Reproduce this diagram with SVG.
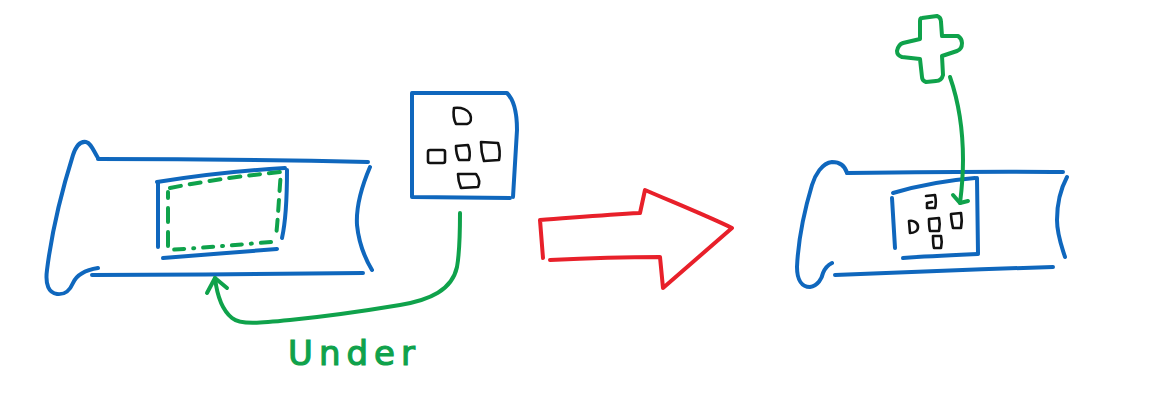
<svg xmlns="http://www.w3.org/2000/svg" width="1171" height="415" viewBox="0 0 1171 415">
<style>
.b{fill:none;stroke:#0f67bd;stroke-width:4;stroke-linecap:round;stroke-linejoin:round}
.g{fill:none;stroke:#0fa24b;stroke-width:4;stroke-linecap:round;stroke-linejoin:round}
.r{fill:none;stroke:#e8202a;stroke-width:4;stroke-linecap:round;stroke-linejoin:round}
.k{fill:none;stroke:#111;stroke-width:2.6;stroke-linecap:round;stroke-linejoin:round}
.lbl{font-family:"DejaVu Sans",sans-serif;font-size:34px;fill:#0fa24b;stroke:#0fa24b;stroke-width:1.2;letter-spacing:6px}
</style>
<rect width="1171" height="415" fill="#fff"/>
<g id="left-tape">
<path class="b" d="M98,158 C93,150 91,143 86,142 C80,141 76,146 73,155 C62,190 52,230 47,270 C45,285 49,293 57,294 C66,295 70,290 73,283 C77,274 85,270 98,268"/>
<path class="b" d="M98,159 C180,159 280,160 368,162"/>
<path class="b" d="M92,275 C180,275 280,274 363,273"/>
<path class="b" d="M370,167 C361,188 356,208 357,225 C359,245 366,260 372,270"/>
<path class="b" d="M158,183 L158,247"/>
<path class="b" d="M157,182 C200,175 250,170 285,168"/>
<path class="b" d="M287,170 C287,195 286,220 282,238"/>
<path class="b" d="M163,258 C200,255 240,252 277,249"/>
<path class="g" stroke-dasharray="11 9" d="M170,188 C210,180 250,175 281,172 C279,195 278,220 276,236"/>
<path class="g" stroke-dasharray="10 9 1 9" d="M271,242 C235,245 200,248 168,250"/>
<path class="g" stroke-dasharray="14 10" d="M168,246 L168,192"/>
</g>
<g id="component">
<path class="b" d="M413,93 L507,93 C514,100 517,115 517,130 L513,197"/>
<path class="b" d="M412,93 L412,197 L510,198"/>
<path class="k" d="M454,108 C462,107 468,110 470,114 C472,119 471,123 467,124 L456,124 C454,120 453,114 454,108 Z"/>
<rect class="k" x="428" y="150" width="17" height="13" rx="2"/>
<path class="k" d="M456,146 L468,145 C470,150 470,156 469,160 L459,160 C457,156 456,150 456,146 Z"/>
<path class="k" d="M481,142 L498,143 C500,149 500,155 499,160 L484,161 C482,155 481,148 481,142 Z"/>
<path class="k" d="M458,174 L476,174 C479,178 480,183 478,187 L461,188 C459,183 458,178 458,174 Z"/>
</g>
<g id="transform-arrow">
<path class="r" d="M550,260 C590,258 630,257 660,257 L663,288 L732,228 C705,215 675,203 645,190 L640,213 C600,215 570,218 540,220 L543,258"/>
</g>
<g id="right-tape">
<path class="b" d="M847,173 C845,166 840,162 832,162 C822,163 815,175 812,185 C803,215 798,245 797,267 C797,280 802,287 810,287 C818,286 822,278 823,273 C825,268 828,265 832,263"/>
<path class="b" d="M847,173 C920,172 1000,171 1063,172"/>
<path class="b" d="M1067,177 C1060,190 1057,205 1057,220 C1057,235 1062,247 1065,257"/>
<path class="b" d="M835,275 C900,272 980,269 1053,267"/>
<path class="b" d="M892,198 L895,248"/>
<path class="b" d="M893,193 C920,185 950,180 975,178"/>
<path class="b" d="M977,178 L978,253"/>
<path class="b" d="M903,258 C930,256 955,255 978,254"/>
<path class="k" d="M926,196 L935,195 C936,200 936,205 935,208 L927,208 L927,203 L932,202"/>
<path class="k" d="M909,221 C914,220 918,223 918,227 C918,231 914,233 910,233 Z"/>
<path class="k" d="M929,219 L939,218 C940,222 940,226 939,231 L930,231 C929,227 929,223 929,219 Z"/>
<path class="k" d="M951,214 L961,213 C962,218 962,223 961,228 L953,228 C952,223 951,218 951,214 Z"/>
<path class="k" d="M933,236 L941,236 C942,240 942,244 941,248 L934,248 C933,244 933,240 933,236 Z"/>
</g>
<g id="plus">
<path class="g" d="M922,18 L937,16 C940,17 941,19 941,22 L942,36 L958,36 C961,38 962,41 962,43 C962,47 960,50 957,51 L942,56 L943,75 C942,79 939,81 936,81 L926,82 C923,81 922,79 922,77 L920,59 L902,57 C899,56 897,54 897,51 C898,46 900,44 903,43 L920,39 L920,21 C920,19 921,18 922,18 Z"/>
</g>
<g id="connectors">
<path class="g" d="M460,213 C460,230 460,250 457,267 C452,290 430,300 400,305 C370,310 330,316 290,320 C260,323 240,325 232,318 C222,310 217,295 215,278"/>
<path class="g" d="M207,293 L215,278 L227,288"/>
<path class="g" d="M950,77 C958,100 963,130 963,160 C963,180 961,195 960,203"/>
<path class="g" d="M953,195 L960,203 L968,201"/>
</g>
<g id="label">
<text class="lbl" x="288" y="365">Under</text>
</g>
</svg>
